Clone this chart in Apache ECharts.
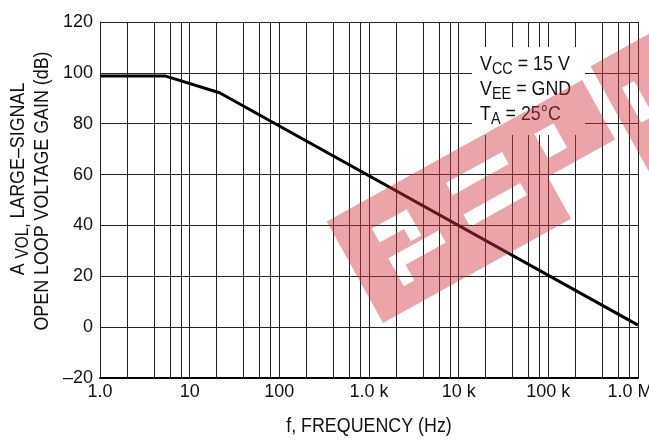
<!DOCTYPE html>
<html><head><meta charset="utf-8">
<script src="https://cdn.jsdelivr.net/npm/echarts@6/dist/echarts.min.js"></script>
<style>html,body{margin:0;padding:0;background:#fff}#c{width:649px;height:441px}</style>
</head><body><div id="c"></div>
<script>
// Data
const freq = [1, 5.3, 21.5, 1000000];
const gain = [98.8, 98.8, 92.2, 0.8];
const xTickValues = [1, 10, 100, 1000, 10000, 100000, 1000000];
const xTickLabels = ['1.0', '10', '100', '1.0 k', '10 k', '100 k', '1.0 M'];
const minorMultipliers = [2, 4, 6, 8];
const yMin = -20, yMax = 120, yStep = 20;
const xTitle = 'f, FREQUENCY (Hz)';
const yTitle1 = 'A {s|VOL,} LARGE\u2013SIGNAL';
const yTitle2 = 'OPEN LOOP VOLTAGE GAIN (dB)';
const notes = ['V{s|CC} = 15 V', 'V{s|EE} = GND', 'T{s|A} = 25\u00B0C'];

const FONT = '"Liberation Sans", Arial, sans-serif';
const SX = 0.85; // horizontal condensing of the narrow reference font

const minorLines = [];
for (let i = 0; i < xTickValues.length - 1; i++) {
  minorMultipliers.forEach(m => minorLines.push({ xAxis: xTickValues[i] * m }));
}
const labelMap = {};
xTickValues.forEach((v, i) => labelMap[v] = xTickLabels[i]);
const xMaxTick = xTickValues[xTickValues.length - 1];

// --- watermark shape (band-local coordinates u along band, v across) ---
const WM = { ox: 383, oy: 323, ang: 29 * Math.PI / 180 };
function wmPt(u, v) {
  const c = Math.cos(WM.ang), s = Math.sin(WM.ang);
  return [WM.ox + c * u - s * v, WM.oy - s * u - c * v];
}
function area(p) { let a = 0; for (let i = 0; i < p.length; i++) { const q = p[(i + 1) % p.length]; a += p[i][0] * q[1] - q[0] * p[i][1]; } return a; }
function rect(u0, v0, u1, v1) { return [[u0, v0], [u1, v0], [u1, v1], [u0, v1]]; }
function orient(p, ccw) { const q = p.slice(); if ((area(q) > 0) !== ccw) q.reverse(); return q; }
// one polygon per outer ring, holes joined in through zero-width bridges
function withHoles(outer, holes) {
  const o = orient(outer, true);
  let pts = o.concat([o[0]]);
  holes.forEach(h => {
    const hh = orient(h, false);
    pts = pts.concat(hh, [hh[0], o[0]]);
  });
  return pts.map(q => wmPt(q[0], q[1]));
}
const wmPolys = [
  withHoles([[0, 0], [215, 0], [215, 48], [292, 48], [292, 116], [0, 116]], [
    [[36, 72], [64, 72], [64, 58], [76, 58], [76, 88], [36, 88]],
    [[36, 22], [48, 22], [48, 40], [94, 40], [94, 54], [36, 54]],
    rect(123, 78, 187, 92),
    rect(123, 42, 188, 56),
    rect(224, 64, 246, 92)
  ]),
  withHoles(rect(306, 0, 470, 124), [rect(323, 50, 337, 90)])
];

const chart = echarts.init(document.getElementById('c'), null, { renderer: 'canvas' });
chart.setOption({
  backgroundColor: '#fff',
  animation: false,
  textStyle: { fontFamily: FONT },
  grid: { left: 100, right: 11, top: 22, bottom: 63, containLabel: false, outerBoundsMode: 'none' },
  xAxis: {
    type: 'log', logBase: 10, min: 1, max: 1000000,
    axisLine: { show: true, onZero: false, lineStyle: { color: '#000', width: 2 } },
    axisTick: { show: false },
    axisLabel: { fontFamily: FONT, fontSize: 18, color: '#111', margin: 5,
      formatter: v => {
        const k = Math.round(v);
        if (labelMap[k] === undefined) return '';
        return k === xMaxTick ? '{m|' + labelMap[k] + '}' : labelMap[k];
      },
      rich: { m: { fontFamily: FONT, fontSize: 18, color: '#111', padding: [0, 16, 0, 0] } } },
    splitLine: { show: true, lineStyle: { color: '#222', width: 1 } }
  },
  yAxis: {
    type: 'value', min: yMin, max: yMax, interval: yStep,
    axisLine: { show: true, onZero: false, lineStyle: { color: '#222', width: 1 } },
    axisTick: { show: false },
    axisLabel: { fontFamily: FONT, fontSize: 18, color: '#111', margin: 7,
      formatter: v => (v < 0 ? '\u2013' + Math.abs(v) : String(v)) },
    splitLine: { show: true, lineStyle: { color: '#222', width: 1 } }
  },
  series: [{
    type: 'line',
    data: freq.map((f, i) => [f, gain[i]]),
    showSymbol: false, symbol: 'none',
    lineStyle: { color: '#000', width: 3 },
    z: 5,
    markLine: {
      silent: true, symbol: ['none', 'none'], label: { show: false },
      lineStyle: { color: '#222', width: 1, type: 'solid' },
      data: minorLines, z: 1
    }
  }],
  graphic: [
    { type: 'rect', z: 100, shape: { x: 472, y: 47, width: 113, height: 88 }, style: { fill: '#fff' } },
    { type: 'text', z: 101, x: 480, y: 52, scaleX: SX,
      style: { text: notes.join('\n'), fontFamily: FONT, fontSize: 21, lineHeight: 25, fill: '#111',
        rich: { s: { fontFamily: FONT, fontSize: 17, fill: '#111', padding: [10, 0, 0, 0] } } } }
  ].concat(wmPolys.map(p => ({ type: 'polygon', z: 150, shape: { points: p }, style: { fill: 'rgba(210,55,66,0.45)' } })))
  .concat([
    { type: 'text', z: 101, x: 369, y: 426, scaleX: SX,
      style: { text: xTitle, fontFamily: FONT, fontSize: 21, fill: '#111', textAlign: 'center', textVerticalAlign: 'middle' } },
    { type: 'text', z: 101, x: 18, y: 179, rotation: Math.PI / 2, scaleX: SX,
      style: { text: yTitle1, fontFamily: FONT, fontSize: 21, fill: '#111', textAlign: 'center', textVerticalAlign: 'middle',
        rich: { s: { fontFamily: FONT, fontSize: 18, fill: '#111', padding: [10, 0, 0, 0] } } } },
    { type: 'text', z: 101, x: 42, y: 191, rotation: Math.PI / 2, scaleX: SX,
      style: { text: yTitle2, fontFamily: FONT, fontSize: 21, fill: '#111', textAlign: 'center', textVerticalAlign: 'middle' } }
  ])
});
</script></body></html>
